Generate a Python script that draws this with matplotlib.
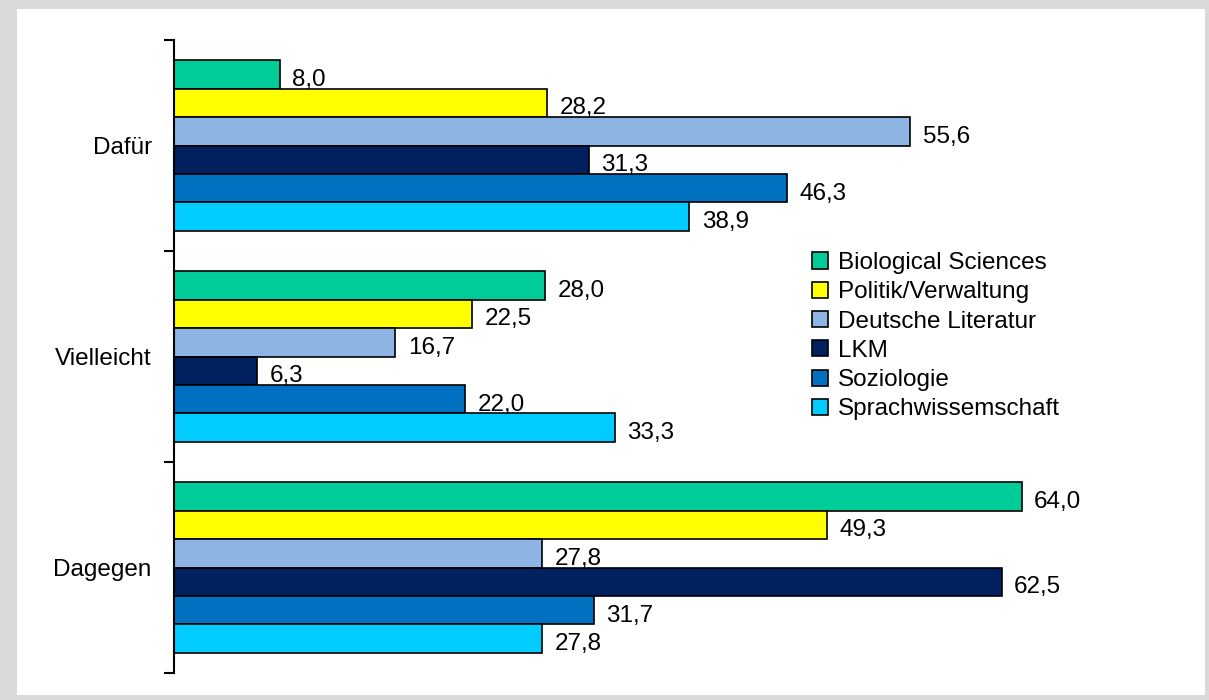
import matplotlib.pyplot as plt
from matplotlib.patches import Rectangle, Patch
import numpy as np

plt.rcParams['font.family'] = ['Liberation Sans', 'DejaVu Sans']

categories = ["Dafür", "Vielleicht", "Dagegen"]
series = ["Biological Sciences", "Politik/Verwaltung", "Deutsche Literatur",
          "LKM", "Soziologie", "Sprachwissemschaft"]
colors = ["#00CC99", "#FFFF00", "#8EB4E3", "#002060", "#0070C0", "#00CCFF"]

bio = [8.0, 28.0, 64.0]
politik = [28.2, 22.5, 49.3]
deutsche = [55.6, 16.7, 27.8]
lkm = [31.3, 6.3, 62.5]
soziologie = [46.3, 22.0, 31.7]
sprach = [38.9, 33.3, 27.8]
values = [bio, politik, deutsche, lkm, soziologie, sprach]

fs = 17.5

fig = plt.figure(figsize=(12.09, 7), dpi=100)
fig.patch.set_facecolor("#d9d9d9")
fig.add_artist(Rectangle((17/1209, 1-695/700), (1205-17)/1209, (695-9)/700,
                         transform=fig.transFigure, facecolor="white",
                         edgecolor="none", zorder=0))

ax = fig.add_axes([174/1209, 1-673/700, (1101-174)/1209, (673-40)/700])
ax.set_facecolor("none")

y = np.arange(len(categories))
h = 0.135
for j, (name, vals, col) in enumerate(zip(series, values, colors)):
    pos = y + (j - 2.5) * h
    ax.barh(pos, vals, height=h, color=col, edgecolor="black", linewidth=1.2, label=name)
    for p, v in zip(pos, vals):
        ax.annotate(f"{v:.1f}".replace(".", ","), (v, p), xytext=(9, -4),
                    textcoords="offset points", ha="left", va="center", fontsize=fs)

ax.set_xlim(0, 70)
ax.set_ylim(2.5, -0.5)
ax.set_yticks(y)
ax.set_yticklabels(categories, fontsize=fs)
ax.tick_params(axis="y", which="major", length=0, pad=16)
ax.set_yticks([-0.5, 0.5, 1.5, 2.5], minor=True)
ax.tick_params(axis="y", which="minor", length=7, width=1.5, direction="out")
ax.set_xticks([])
for s in ["top", "right", "bottom"]:
    ax.spines[s].set_visible(False)
ax.spines["left"].set_linewidth(1.5)

handles = [Patch(facecolor=c, edgecolor="black", linewidth=1.2) for c in colors]
fig.legend(handles, series, loc="upper left", bbox_to_anchor=(812/1209, 1-252/700),
           frameon=False, fontsize=fs, handlelength=0.65, handleheight=0.65,
           handletextpad=0.4, labelspacing=0.3, borderaxespad=0, borderpad=0)

fig.savefig("out.png", dpi=100, facecolor=fig.get_facecolor())
